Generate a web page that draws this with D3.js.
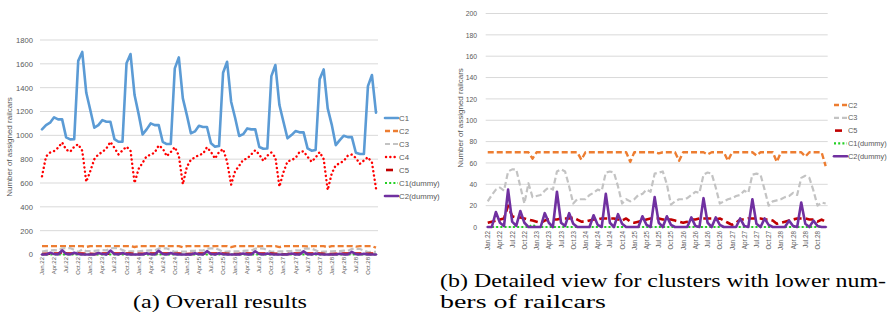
<!DOCTYPE html>
<html>
<head>
<meta charset="utf-8">
<script src="https://cdn.jsdelivr.net/npm/d3@7"></script>
<style>
  html, body { margin: 0; padding: 0; background: #fff; }
  svg { display: block; }
</style>
</head>
<body>
<svg id="chart" width="894" height="321"></svg>
<script>
// ---------------- DATA ----------------
const categories = [
  "Jan.22","Feb.22","Mar.22","Apr.22","May.22","Jun.22","Jul.22","Aug.22","Sep.22","Oct.22","Nov.22","Dec.22",
  "Jan.23","Feb.23","Mar.23","Apr.23","May.23","Jun.23","Jul.23","Aug.23","Sep.23","Oct.23","Nov.23","Dec.23",
  "Jan.24","Feb.24","Mar.24","Apr.24","May.24","Jun.24","Jul.24","Aug.24","Sep.24","Oct.24","Nov.24","Dec.24",
  "Jan.25","Feb.25","Mar.25","Apr.25","May.25","Jun.25","Jul.25","Aug.25","Sep.25","Oct.25","Nov.25","Dec.25",
  "Jan.26","Feb.26","Mar.26","Apr.26","May.26","Jun.26","Jul.26","Aug.26","Sep.26","Oct.26","Nov.26","Dec.26",
  "Jan.27","Feb.27","Mar.27","Apr.27","May.27","Jun.27","Jul.27","Aug.27","Sep.27","Oct.27","Nov.27","Dec.27",
  "Jan.28","Feb.28","Mar.28","Apr.28","May.28","Jun.28","Jul.28","Aug.28","Sep.28","Oct.28","Nov.28","Dec.28"
];
const tickLabels = [
  "Jan.22","Apr.22","Jul.22","Oct.22","Jan.23","Apr.23","Jul.23","Oct.23",
  "Jan.24","Apr.24","Jul.24","Oct.24","Jan.25","Apr.25","Jul.25","Oct.25",
  "Jan.26","Apr.26","Jul.26","Oct.26","Jan.27","Apr.27","Jul.27","Oct.27",
  "Jan.28","Apr.28","Jul.28","Oct.28"
];
const c1 = [
  1050,1086,1106,1151,1134,1134,983,966,968,1625,1700,1357,
  1212,1064,1086,1128,1114,1114,968,946,946,1604,1682,1338,
  1180,1008,1050,1100,1086,1086,946,927,927,1562,1654,1310,
  1170,1017,1033,1080,1070,1070,933,905,910,1525,1617,1282,
  1145,994,1010,1058,1050,1050,902,888,890,1497,1590,1254,
  1114,975,1002,1036,1025,1025,891,871,877,1470,1553,1226,
  1090,918,960,997,985,985,854,843,843,1413,1506,1190
];
const c2 = [
  70,70,70,70,70,70,70,70,70,70,70,64,
  70,70,70,70,70,70,70,70,70,70,70,63,
  70,70,70,70,70,70,70,70,70,70,70,61,
  70,70,70,70,70,70,69,70,70,70,70,62,
  70,70,70,70,70,70,68,70,70,70,70,62,
  70,70,70,70,70,70,67,70,70,70,70,61,
  70,70,70,70,70,70,66,70,70,70,70,57
];
const c3 = [
  24,30,35,37,34,52,54,54,38,22,41,28,
  29,30,34,37,35,52,54,52,38,22,26,26,
  26,30,32,35,34,51,52,51,38,22,26,24,
  26,30,31,35,33,50,51,52,40,21,24,26,
  26,27,30,33,32,49,51,50,37,22,24,26,
  27,29,30,34,32,49,50,49,35,20,24,25,
  26,28,29,32,30,46,48,46,34,20,23,22
];
const c4 = [
  656,823,855,868,896,940,880,862,905,925,870,610,
  700,800,840,860,890,945,895,840,873,905,870,600,
  718,770,825,837,855,915,890,825,860,901,830,590,
  735,795,815,835,845,900,860,805,860,885,780,586,
  700,745,795,805,840,875,839,785,830,856,815,569,
  690,780,792,810,860,866,820,778,815,859,800,541,
  680,749,766,785,830,839,810,761,789,817,770,555
];
const c5 = [
  4,5,6,7,8,20,10,9,9,8,7,6,
  5,4,6,7,7,7,8,8,8,9,7,5,
  5,6,7,7,8,8,8,8,7,6,8,5,
  4,5,6,7,8,8,8,7,7,7,6,5,
  4,5,7,7,8,8,8,8,7,8,6,4,
  2,4,7,7,8,8,8,8,7,7,6,3,
  4,5,6,7,8,8,8,7,7,5,7,5
];
const c1dummy = [
  0,0,0,0,0,0,0,0,0,0,0,2,
  0,0,0,0,0,0,0,0,0,0,0,0,
  0,0,0,0,0,0,0,0,0,0,0,0,
  0,0,0,0,0,0,0,0,0,0,0,0,
  0,0,0,0,0,0,0,0,0,0,0,0,
  0,0,0,0,0,0,0,0,0,0,0,0,
  0,0,0,0,0,0,0,0,0,0,0,0
];
const c2dummy = [
  0,0,14,4,1,35,5,1,15,4,0,0,
  0,0,13,4,0,33,4,1,13,3,0,0,
  0,0,11,2,0,31,4,0,12,3,0,0,
  0,0,10,2,0,28,4,0,10,2,0,0,
  0,0,9,1,0,27,4,0,9,2,0,0,
  0,0,8,1,0,26,3,0,8,2,0,0,
  0,0,6,1,0,23,3,0,6,1,0,0
];
const yTicksLeft = [0,200,400,600,800,1000,1200,1400,1600,1800];
const yTicksRight = [0,20,40,60,80,100,120,140,160,180,200];
const captionA = "(a) Overall results";
const captionB1 = "(b) Detailed view for clusters with lower num-";
const captionB2 = "bers of railcars";
const yTitle = "Number of assigned railcars";

// ---------------- STYLES ----------------
const styles = {
  "C1":        {color:"#5B9BD5", width:2.6, dash:null, cap:"round"},
  "C2":        {color:"#ED7D31", width:2.4, dash:"6,3", cap:"butt"},
  "C3":        {color:"#C3C3C3", width:2.2, dash:"6,3", cap:"butt"},
  "C4":        {color:"#FF0000", width:2.4, dash:"0.1,4.2", cap:"round"},
  "C5":        {color:"#C00000", width:2.6, dash:"8,4", cap:"butt"},
  "C1(dummy)": {color:"#22D022", width:2.2, dash:"2,2.2", cap:"butt"},
  "C2(dummy)": {color:"#7030A0", width:2.6, dash:null, cap:"round"}
};
const seriesAll = [
  {name:"C1", values:c1}, {name:"C2", values:c2}, {name:"C3", values:c3},
  {name:"C4", values:c4}, {name:"C5", values:c5},
  {name:"C1(dummy)", values:c1dummy}, {name:"C2(dummy)", values:c2dummy}
];
const seriesDetail = seriesAll.filter(s => ["C2","C3","C5","C1(dummy)","C2(dummy)"].includes(s.name));

const svg = d3.select("#chart");
const FONT = "'Liberation Sans', Arial, sans-serif";

function drawPanel(cfg) {
  const g = svg.append("g");
  const x = d3.scaleBand().domain(categories).range([cfg.x0, cfg.x1]).paddingInner(0).paddingOuter(0);
  const y = d3.scaleLinear().domain(cfg.yDomain).range([cfg.yBottom, cfg.yTop]);
  const cx = d => x(d) + x.bandwidth() / 2;

  // gridlines
  g.append("g").selectAll("line").data(cfg.yTicks).join("line")
    .attr("x1", cfg.x0).attr("x2", cfg.x1)
    .attr("y1", d => y(d)).attr("y2", d => y(d))
    .attr("stroke", "#D9D9D9").attr("stroke-width", 1);

  // y axis labels
  const yAxis = d3.axisLeft(y).tickValues(cfg.yTicks).tickFormat(d3.format("d")).tickSize(0).tickPadding(0);
  const ya = g.append("g").attr("transform", `translate(${cfg.yLabelX},0)`).call(yAxis);
  ya.select(".domain").remove();
  ya.selectAll("text").attr("font-family", FONT).attr("font-size", cfg.yFont).attr("fill", "#595959");

  // x axis labels
  const xAxis = d3.axisBottom(x).tickValues(tickLabels).tickSize(0).tickPadding(0);
  const xa = g.append("g").attr("transform", `translate(0,${cfg.xLabelY})`).call(xAxis);
  xa.select(".domain").remove();
  xa.selectAll("text")
    .attr("font-family", FONT).attr("font-size", cfg.xFont).attr("fill", "#595959")
    .attr("text-anchor", "end").attr("dy", null).attr("y", 0)
    .attr("dominant-baseline", "central")
    .attr("transform", "rotate(-90)");

  // y title
  g.append("text")
    .attr("transform", `translate(${cfg.titleX},${cfg.titleY}) rotate(-90)`)
    .attr("text-anchor", "middle").attr("dominant-baseline", "central")
    .attr("font-family", FONT).attr("font-size", 8).attr("fill", "#595959")
    .text(yTitle);

  // lines
  const line = d3.line().x((d, i) => cx(categories[i])).y(d => y(d));
  cfg.series.forEach(s => {
    const st = styles[s.name];
    g.append("path").datum(s.values)
      .attr("d", line).attr("fill", "none")
      .attr("stroke", st.color).attr("stroke-width", st.width)
      .attr("stroke-linejoin", "round").attr("stroke-linecap", st.cap)
      .attr("stroke-dasharray", st.dash);
  });

  // legend
  const lg = g.append("g");
  cfg.series.forEach((s, i) => {
    const st = styles[s.name];
    const yy = cfg.legY + i * cfg.legStep;
    let x1 = cfg.legX, x2 = cfg.legX + 13, dash = st.dash;
    if (s.name === "C2" || s.name === "C3") dash = "5,3";
    if (s.name === "C5") { x1 = cfg.legX + 1; x2 = cfg.legX + 8; dash = null; }
    if (s.name === "C4") { x1 = cfg.legX + 1; dash = "0.1,4.2"; }
    lg.append("line").attr("x1", x1).attr("x2", x2).attr("y1", yy).attr("y2", yy)
      .attr("stroke", st.color).attr("stroke-width", st.width)
      .attr("stroke-linecap", st.cap).attr("stroke-dasharray", dash);
    lg.append("text").attr("x", cfg.legX + 14).attr("y", yy)
      .attr("dominant-baseline", "central")
      .attr("font-family", FONT).attr("font-size", cfg.legFont).attr("fill", "#595959")
      .text(s.name);
  });
}

drawPanel({
  x0: 40, x1: 378, yTop: 40, yBottom: 254.5, yDomain: [0, 1800], yTicks: yTicksLeft,
  yLabelX: 33, yFont: 7.6, xLabelY: 257, xFont: 6, titleX: 9, titleY: 147,
  series: seriesAll, legX: 385, legY: 118, legStep: 13, legFont: 7.8
});
drawPanel({
  x0: 485.7, x1: 827.7, yTop: 13.5, yBottom: 227, yDomain: [0, 200], yTicks: yTicksRight,
  yLabelX: 477, yFont: 6.8, xLabelY: 231, xFont: 6.3, titleX: 460, titleY: 118,
  series: seriesDetail, legX: 834, legY: 105, legStep: 12.8, legFont: 7.4
});

// captions
const SERIF = "'Liberation Serif', 'DejaVu Serif', serif";
svg.append("text").attr("x", 133).attr("y", 308)
  .attr("font-family", SERIF).attr("font-size", 19).attr("fill", "#000")
  .attr("textLength", 174).attr("lengthAdjust", "spacingAndGlyphs").text(captionA);
svg.append("text").attr("x", 440).attr("y", 287)
  .attr("font-family", SERIF).attr("font-size", 19).attr("fill", "#000")
  .attr("textLength", 446).attr("lengthAdjust", "spacingAndGlyphs").text(captionB1);
svg.append("text").attr("x", 440).attr("y", 308)
  .attr("font-family", SERIF).attr("font-size", 19).attr("fill", "#000")
  .attr("textLength", 166).attr("lengthAdjust", "spacingAndGlyphs").text(captionB2);
</script>
</body>
</html>
